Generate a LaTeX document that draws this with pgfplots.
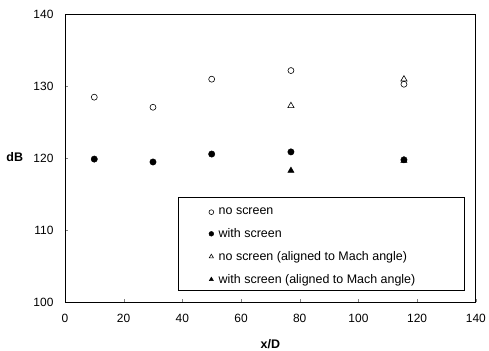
\documentclass[border=0pt]{standalone}
\usepackage{fontspec}
\setmainfont{Liberation Sans}
\usepackage{pgfplots}
\pgfplotsset{compat=1.18}
\begin{document}
\begin{tikzpicture}
\begin{axis}[
  scale only axis,
  width=411bp, height=288bp,
  xmin=0, xmax=140, ymin=100, ymax=140,
  xtick={0,20,...,140}, ytick={100,110,...,140},
  /pgf/number format/assume math mode=true,
  tick label style={font=\fontsize{12}{14}\selectfont},
  xticklabel style={yshift=-8bp},
  yticklabel style={xshift=-8bp},
  xtick pos=bottom, ytick pos=left,
  tick align=inside,
  major tick length=3bp,
  axis line style={line width=0.8bp},
  every axis x label/.style={at={(rel axis cs:0.5,-0.144)}, anchor=center},
  every axis y label/.style={at={(rel axis cs:-0.122,0.503)}, anchor=center},
  xlabel={x/D}, ylabel={dB},
  label style={font=\fontsize{12.5}{14}\selectfont\bfseries},
  legend style={draw=none, fill=none, at={(rel axis cs:0.350,0.335)}, anchor=north west,
    font=\fontsize{12.5}{14}\selectfont, row sep=8.3bp, inner sep=0pt,
    /tikz/every odd column/.append style={column sep=3bp}},
  legend cell align=left,
  legend image code/.code={\draw[#1, mark size=2.4bp] plot coordinates {(0bp,0bp)};},
]
\addplot[only marks, mark=o, mark size=3bp, black, line width=0.6bp] coordinates {
(10,128.5) (30,127.1) (50,131.0) (77,132.2) (115.5,130.3)};
\addlegendentry{no screen}
\addplot[only marks, mark=*, mark size=3.2bp, black] coordinates {
(10,119.9) (30,119.5) (50,120.6) (77,120.9) (115.5,119.8)};
\addlegendentry{with screen}
\addplot[only marks, mark=triangle, mark size=3.6bp, black, line width=0.6bp] coordinates {
(77,127.3) (115.5,131.0)};
\addlegendentry{no screen (aligned to Mach angle)}
\addplot[only marks, mark=triangle*, mark size=3.6bp, black] coordinates {
(77,118.3) (115.5,119.7)};
\addlegendentry{with screen (aligned to Mach angle)}
\draw[line width=0.6bp] (rel axis cs:0.275,0.043) rectangle (rel axis cs:0.973,0.366);
\coordinate (bl) at (rel axis cs:-0.158,-0.168);
\coordinate (tr) at (rel axis cs:1.032,1.050);
\end{axis}
\pgfresetboundingbox
\path (bl) rectangle (tr);
\end{tikzpicture}
\end{document}
